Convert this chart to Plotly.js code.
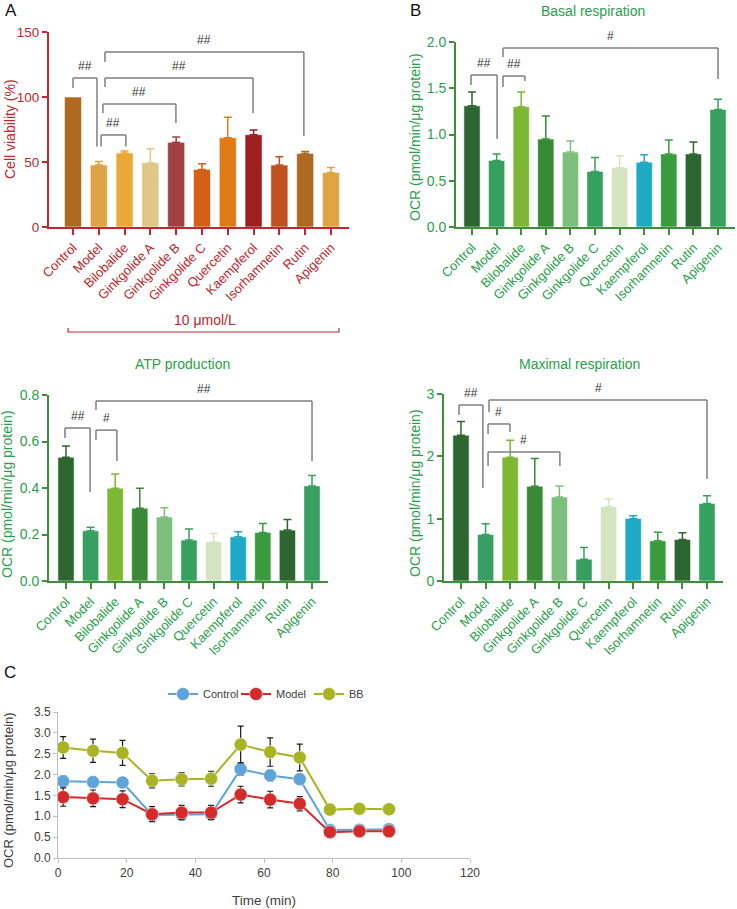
<!DOCTYPE html>
<html>
<head>
<meta charset="utf-8">
<script src="https://cdn.plot.ly/plotly-3.0.1.min.js"></script>
<style>
html,body{margin:0;padding:0;background:#fff;}
#chart{width:737px;height:909px;}
</style>
</head>
<body>
<div id="chart"></div>
<script>
// ---------------- DATA ----------------
const cats = ['Control','Model','Bilobalide','Ginkgolide A','Ginkgolide B','Ginkgolide C','Quercetin','Kaempferol','Isorhamnetin','Rutin','Apigenin'];

const viability    = [100, 47.6, 56.9, 49.4, 65.1, 44.3, 68.7, 71.0, 47.6, 56.6, 41.9];
const viabilityErr = [0, 2.8, 1.5, 10.8, 4.1, 4.3, 15.7, 3.6, 6.4, 1.5, 3.9];

const basal    = [1.31, 0.72, 1.30, 0.95, 0.81, 0.60, 0.64, 0.70, 0.79, 0.79, 1.27];
const basalErr = [0.15, 0.07, 0.16, 0.25, 0.12, 0.15, 0.13, 0.08, 0.15, 0.13, 0.11];

const atp    = [0.532, 0.216, 0.399, 0.313, 0.275, 0.176, 0.168, 0.190, 0.209, 0.219, 0.409];
const atpErr = [0.049, 0.015, 0.061, 0.086, 0.040, 0.048, 0.036, 0.022, 0.038, 0.045, 0.045];

const maximal    = [2.34, 0.746, 1.986, 1.519, 1.347, 0.349, 1.19, 1.004, 0.644, 0.666, 1.245];
const maximalErr = [0.22, 0.172, 0.274, 0.446, 0.177, 0.188, 0.13, 0.043, 0.14, 0.107, 0.124];

const timeMin = [1.5, 10.2, 18.8, 27.4, 36, 44.6, 53.2, 61.8, 70.4, 79.2, 87.8, 96.4];
const ocrControl    = [1.84, 1.82, 1.81, 1.03, 1.04, 1.05, 2.13, 1.98, 1.89, 0.67, 0.68, 0.69];
const ocrControlErr = [0.13, 0.12, 0.12, 0.10, 0.10, 0.10, 0.15, 0.13, 0.12, 0.08, 0.08, 0.08];
const ocrModel      = [1.46, 1.43, 1.41, 1.05, 1.09, 1.09, 1.52, 1.40, 1.30, 0.62, 0.64, 0.64];
const ocrModelErr   = [0.22, 0.20, 0.20, 0.18, 0.17, 0.17, 0.20, 0.20, 0.17, 0.10, 0.12, 0.12];
const ocrBB         = [2.65, 2.57, 2.52, 1.85, 1.89, 1.90, 2.72, 2.54, 2.41, 1.16, 1.18, 1.17];
const ocrBBErr      = [0.26, 0.28, 0.30, 0.17, 0.16, 0.18, 0.44, 0.34, 0.32, 0.04, 0.04, 0.04];
const seriesNames = ['Control', 'Model', 'BB'];

// ---------------- STYLE ----------------
const colorsA = ['#b06a20','#dea344','#eaa836','#ddc985','#a14144','#d45f16','#e07b18','#a01e20','#c0501c','#ae6a22','#e0a445'];
const colorsB = ['#2e6631','#37a060','#7db734','#388a36','#7dbf7d','#37a060','#d4e4c0','#1eaac6','#3a9b3e','#2e6631','#37a060'];
const RED = '#c1272d';
const GTXT = '#2a9f4c';
const GLINE = '#3f8f3a';
const W = 737, H = 909;
const px = v => v / W;
const py = v => 1 - v / H;

const traces = [];
function barTraces(vals, errs, colors, xa, ya) {
  cats.forEach((c, i) => {
    traces.push({
      type: 'bar', x: [c], y: [vals[i]], xaxis: xa, yaxis: ya,
      marker: {color: colors[i], line: {color: 'rgba(255,255,255,0.55)', width: 1}},
      error_y: {type: 'data', symmetric: false, array: [errs[i]], arrayminus: [0],
                visible: errs[i] > 0, color: colors[i], thickness: 1.5, width: 4},
      showlegend: false, hoverinfo: 'x+y'
    });
  });
}
barTraces(viability, viabilityErr, colorsA, 'x', 'y');
barTraces(basal, basalErr, colorsB, 'x2', 'y2');
barTraces(atp, atpErr, colorsB, 'x3', 'y3');
barTraces(maximal, maximalErr, colorsB, 'x4', 'y4');

const lineColors = ['#5fa3db', '#d42a2a', '#a8b423'];
[[ocrControl, ocrControlErr], [ocrModel, ocrModelErr], [ocrBB, ocrBBErr]].forEach((s, k) => {
  traces.push({
    type: 'scatter', mode: 'lines+markers', name: seriesNames[k],
    x: timeMin, y: s[0], xaxis: 'x5', yaxis: 'y5',
    line: {color: lineColors[k], width: 2},
    marker: {color: lineColors[k], size: 13, line: {color: 'rgba(255,255,255,0.45)', width: 1}},
    error_y: {type: 'data', array: s[1], color: '#1a1a1a', thickness: 1.2, width: 3}
  });
});

// ---------------- AXES ----------------
function catAxis(domain, anchor, range, color, lineColor) {
  return {
    domain: domain, anchor: anchor, type: 'category', categoryorder: 'array', categoryarray: cats,
    range: range, showline: true, linecolor: lineColor, linewidth: 2,
    ticks: 'outside', ticklen: 6, tickwidth: 2, tickcolor: lineColor,
    tickangle: -45, tickfont: {color: color, size: 13}, showgrid: false, zeroline: false, fixedrange: true
  };
}
function valAxis(domain, anchor, range, dtick, fmt, color, lineColor, size) {
  return {
    domain: domain, anchor: anchor, range: range, dtick: dtick, tick0: 0, tickformat: fmt,
    showline: true, linecolor: lineColor, linewidth: 2,
    ticks: 'outside', ticklen: 5, tickwidth: 2, tickcolor: lineColor,
    tickfont: {color: color, size: size}, showgrid: false, zeroline: false, fixedrange: true
  };
}

// ---------------- SIGNIFICANCE BRACKETS ----------------
// [xLeft, xRight, yTop, yLeftEnd, yRightEnd, label]
const bracketsA = [
  [0, 0.93, 114.6, 107, 62, '##'],
  [1.09, 2.05, 70.8, 62, 62, '##'],
  [1.16, 3.99, 94.6, 87.7, 80, '##'],
  [1.24, 6.98, 114.6, 107.7, 87.7, '##'],
  [1.24, 8.95, 134.6, 127, 70, '##']
];
const bracketsB = [
  [-0.04, 1.02, 1.643, 1.535, 0.951, '##'],
  [1.26, 2.15, 1.632, 1.514, 1.578, '##'],
  [1.26, 10, 1.935, 1.838, 1.6, '#']
];
const bracketsATP = [
  [-0.04, 0.98, 0.658, 0.615, 0.383, '##'],
  [1.22, 2.07, 0.649, 0.606, 0.516, '#'],
  [1.22, 10, 0.774, 0.735, 0.516, '##']
];
const bracketsMax = [
  [-0.08, 0.89, 2.824, 2.663, 1.492, '##'],
  [1.1, 1.99, 2.519, 2.358, 2.39, '#'],
  [1.1, 4.02, 2.07, 1.845, 1.845, '#'],
  [1.14, 10, 2.904, 2.711, 1.636, '#']
];

const shapes = [];
const annotations = [];
function addBrackets(list, xa, ya, color) {
  list.forEach(b => {
    const ln = {color: color || '#7f7f7f', width: 1.5};
    shapes.push({type: 'line', xref: xa, yref: ya, x0: b[0], x1: b[1], y0: b[2], y1: b[2], line: ln});
    shapes.push({type: 'line', xref: xa, yref: ya, x0: b[0], x1: b[0], y0: b[2], y1: b[3], line: ln});
    shapes.push({type: 'line', xref: xa, yref: ya, x0: b[1], x1: b[1], y0: b[2], y1: b[4], line: ln});
    annotations.push({xref: xa, yref: ya, x: (b[0] + b[1]) / 2, y: b[2], text: b[5], showarrow: false,
      yanchor: 'bottom', yshift: 3, font: {size: 12, color: '#333'}});
  });
}
addBrackets(bracketsA, 'x', 'y');
addBrackets(bracketsB, 'x2', 'y2');
addBrackets(bracketsATP, 'x3', 'y3');
addBrackets(bracketsMax, 'x4', 'y4');

// "10 μmol/L" bracket in panel A
shapes.push({type: 'path', xref: 'x', yref: 'paper',
  path: 'M -0.19,' + py(328) + ' L -0.19,' + py(332) + ' L 10.31,' + py(332) + ' L 10.31,' + py(328),
  line: {color: RED, width: 1.2}});

function txt(x, y, t, opts) {
  annotations.push(Object.assign({xref: 'paper', yref: 'paper', x: px(x), y: py(y), text: t, showarrow: false,
    xanchor: 'center', yanchor: 'middle'}, opts || {}));
}
txt(205, 320, '10 μmol/L', {font: {size: 14, color: RED}});
txt(11, 11, 'A', {font: {size: 17, color: '#111'}});
txt(415, 11, 'B', {font: {size: 17, color: '#111'}});
txt(10, 672, 'C', {font: {size: 17, color: '#111'}});
txt(593, 11, 'Basal respiration', {font: {size: 14, color: GTXT}});
txt(182, 364, 'ATP production', {font: {size: 14, color: GTXT}});
txt(579, 364, 'Maximal respiration', {font: {size: 14, color: GTXT}});
txt(10, 129, 'Cell viability (%)', {textangle: -90, font: {size: 14, color: RED}});
txt(415, 137, 'OCR (pmol/min/μg protein)', {textangle: -90, font: {size: 14, color: GTXT}});
txt(7, 494, 'OCR (pmol/min/μg protein)', {textangle: -90, font: {size: 14, color: GTXT}});
txt(415, 493, 'OCR (pmol/min/μg protein)', {textangle: -90, font: {size: 14, color: GTXT}});
txt(8, 790, 'OCR (pmol/min/μg protein)', {textangle: -90, font: {size: 13, color: '#404040'}});
txt(264, 900, 'Time (min)', {font: {size: 13.5, color: '#404040'}});

const layout = {
  width: W, height: H, margin: {l: 0, r: 0, t: 0, b: 0},
  paper_bgcolor: '#fff', plot_bgcolor: 'rgba(0,0,0,0)',
  font: {family: 'Arial, "Liberation Sans", sans-serif', color: '#333'},
  barmode: 'overlay', bargap: 0.34,
  showlegend: true,
  legend: {orientation: 'h', x: px(163), xanchor: 'left', y: py(694), yanchor: 'middle',
           font: {size: 11, color: '#404040'}, bgcolor: 'rgba(0,0,0,0)', itemwidth: 30,
           entrywidth: 28, entrywidthmode: 'pixels', traceorder: 'normal'},
  xaxis:  catAxis([px(49), px(349)], 'y', [-0.93, 10.70], RED, RED),
  yaxis:  valAxis([py(227), py(32)], 'x', [0, 150], 50, '', RED, RED, 13.5),
  xaxis2: catAxis([px(456), px(735)], 'y2', [-0.65, 10.69], GTXT, GLINE),
  yaxis2: valAxis([py(227), py(42)], 'x2', [0, 2], 0.5, '.1f', GTXT, GLINE, 14),
  xaxis3: catAxis([px(49), px(328)], 'y3', [-0.69, 10.65], GTXT, GLINE),
  yaxis3: valAxis([py(581), py(395)], 'x3', [0, 0.8], 0.2, '.1f', GTXT, GLINE, 14),
  xaxis4: catAxis([px(444), px(723)], 'y4', [-0.69, 10.65], GTXT, GLINE),
  yaxis4: valAxis([py(581), py(394)], 'x4', [0, 3], 1, '', GTXT, GLINE, 14),
  xaxis5: {domain: [px(58), px(470)], anchor: 'y5', range: [0, 120], dtick: 20, tick0: 0,
           showline: true, linecolor: '#bfbfbf', linewidth: 1, ticks: 'outside', ticklen: 4, tickcolor: '#bfbfbf',
           tickfont: {size: 12, color: '#404040'}, showgrid: false, zeroline: false, fixedrange: true},
  yaxis5: {domain: [py(858), py(712)], anchor: 'x5', range: [0, 3.5], dtick: 0.5, tick0: 0, tickformat: '.1f',
           showline: true, linecolor: '#bfbfbf', linewidth: 1, ticks: 'outside', ticklen: 4, tickcolor: '#bfbfbf',
           tickfont: {size: 12, color: '#404040'}, showgrid: false, zeroline: false, fixedrange: true},
  shapes: shapes,
  annotations: annotations
};

Plotly.newPlot('chart', traces, layout, {displayModeBar: false, staticPlot: true});
</script>
</body>
</html>
